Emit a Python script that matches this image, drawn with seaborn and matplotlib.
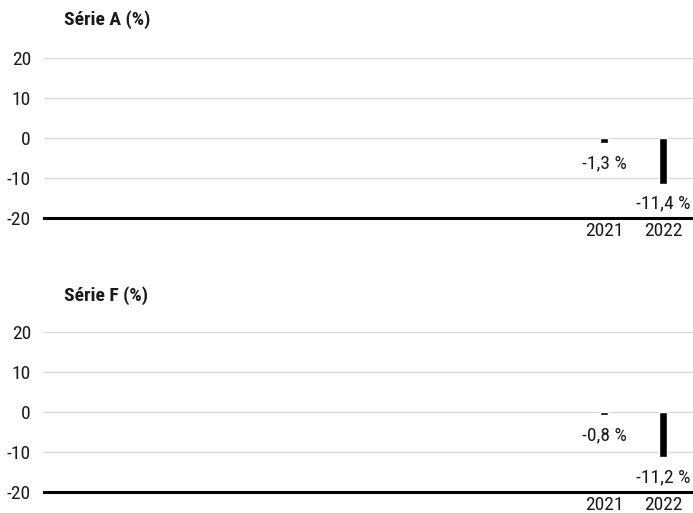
import numpy as np
import pandas as pd
import matplotlib
matplotlib.use("Agg")
import matplotlib.pyplot as plt
import seaborn as sns

# data
years = [str(y) for y in range(2012, 2023)]
serie_a = [np.nan] * 9 + [-1.3, -11.4]
serie_f = [np.nan] * 9 + [-0.8, -11.2]
titles = ["Série A (%)", "Série F (%)"]
yticks = [20, 10, 0, -10, -20]

sns.set_style("white")
plt.rcParams["font.family"] = ["Roboto Condensed", "Liberation Sans Narrow",
                               "Roboto", "DejaVu Sans"]
plt.rcParams["text.color"] = "#1a1a1a"
plt.rcParams["xtick.color"] = "#1a1a1a"
plt.rcParams["ytick.color"] = "#1a1a1a"

fig = plt.figure(figsize=(6.93, 5.13), dpi=100)

panels = [(serie_a, 0.575, 20), (serie_f, 0.041, 296)]
for (vals, bottom, title_y), title in zip(panels, titles):
    ax = fig.add_axes([43.5 / 693, bottom, 649 / 693, 0.3119])
    df = pd.DataFrame({"year": years, "value": vals})
    sns.barplot(data=df, x="year", y="value", order=years, color="black",
                width=0.12, saturation=1, ax=ax, errorbar=None)
    ax.set_ylim(-20, 20)
    ax.set_xlim(-0.5, len(years) - 0.5)
    ax.set_yticks(yticks)
    ax.set_yticklabels([str(t) for t in yticks])
    ax.grid(axis="y", color="#d9d9d9", linewidth=1)
    ax.set_axisbelow(True)
    for s in ["top", "right", "left"]:
        ax.spines[s].set_visible(False)
    ax.spines["bottom"].set_linewidth(2.2)
    ax.spines["bottom"].set_color("black")
    ax.spines["bottom"].set_zorder(5)
    ax.tick_params(axis="y", length=0, pad=9, labelsize=14)
    ax.tick_params(axis="x", length=0, pad=3, labelsize=14)
    ax.set_xticks(range(len(years)))
    ax.set_xticklabels([y if not np.isnan(v) else "" for y, v in zip(years, vals)])
    ax.set_xlabel("")
    ax.set_ylabel("")
    for i, v in enumerate(vals):
        if np.isnan(v):
            continue
        lbl = f"{v:.1f}".replace(".", ",") + " %"
        ax.annotate(lbl, (i, v), xytext=(0, -8), textcoords="offset points",
                    ha="center", va="top", fontsize=14)
    fig.text(64 / 693, 1 - title_y / 513, title, fontsize=14, fontweight="bold",
             ha="left", va="center")

fig.savefig("out.png", dpi=100)
